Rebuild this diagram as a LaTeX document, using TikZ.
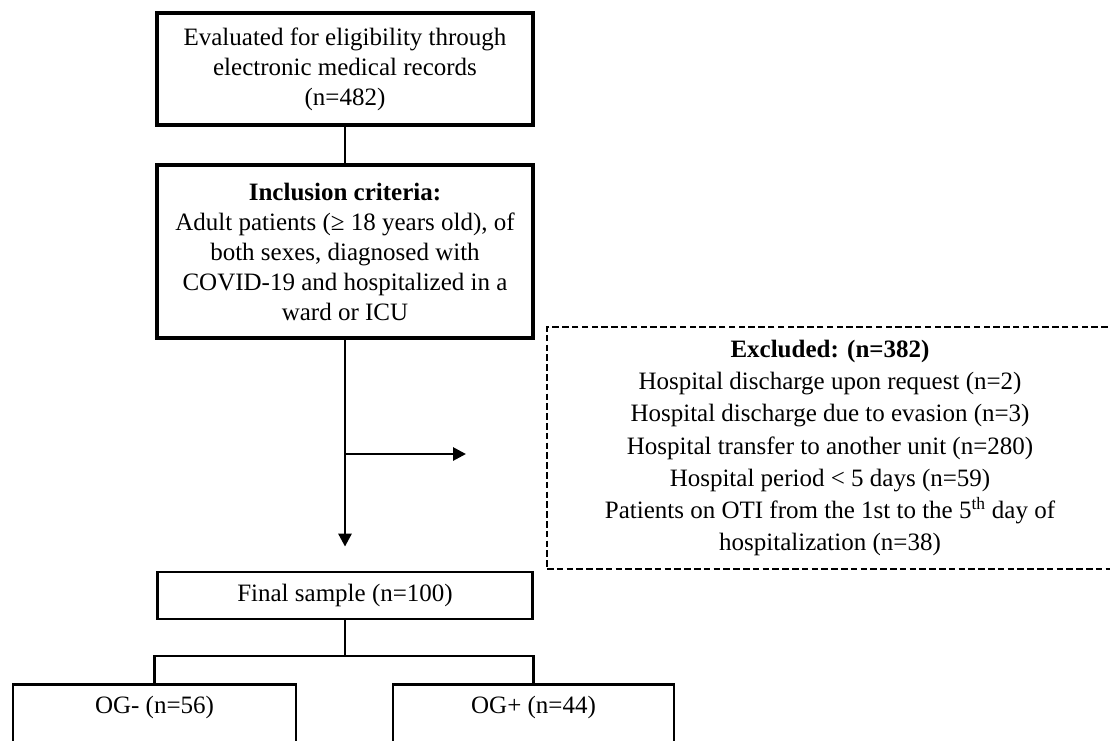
\documentclass[tikz,border=0pt]{standalone}
\usepackage{fontspec}
\setmainfont{Liberation Serif}
\usetikzlibrary{arrows.meta,calc}
\begin{document}
\begin{tikzpicture}[x=1pt,y=-1pt,
  txt/.style={font=\fontsize{25}{30}\selectfont,text=black,align=center,inner sep=0pt},
  box/.style={txt,draw=black,line width=3.2pt,rectangle,line join=miter},
  dbox/.style={draw=black,line width=2.6pt,rectangle,dash pattern=on 6.5pt off 3.3pt,align=center,inner sep=0pt,
    font=\fontsize{25}{32.3}\selectfont,text=black},
  conn/.style={draw=black,line width=2.8pt,line join=miter},
  thin/.style={draw=black,line width=2.3pt,line join=miter},
  arr/.style={conn,-{Triangle[length=13pt,width=13pt]}},
]
\useasboundingbox (0,0) rectangle (1110,740);
\fill[white] (0,0) rectangle (1110,740);

\node[box,minimum width=376pt,minimum height=112pt] (eval) at (345,69)
  {Evaluated for eligibility through\\electronic medical records\\(n=482)};

\node[box,minimum width=376pt,minimum height=173pt] (incl) at (345,251.5)
  {\textbf{Inclusion criteria:}\\Adult patients (≥ 18 years old), of\\both sexes, diagnosed with\\COVID-19 and hospitalized in a\\ward or ICU};

\node[dbox,minimum width=566pt,minimum height=242pt] (excl) at (830,448)
  {\textbf{Excluded: (n=382)}\\
   Hospital discharge upon request (n=2)\\
   Hospital discharge due to evasion (n=3)\\
   Hospital transfer to another unit (n=280)\\
   Hospital period {<} 5 days (n=59)\\
   Patients on OTI from the 1st to the 5\textsuperscript{th} day of\\
   hospitalization (n=38)};

\node[box,line width=2.8pt,minimum width=375pt,minimum height=47pt] (final) at (345,595.5)
  {Final sample (n=100)};

\node[box,line width=2.8pt,anchor=north,minimum width=283pt,minimum height=110pt] (ogm) at (154.5,683) {};
\node[txt] (ogmt) at (154.5,707) {OG- (n=56)};
\node[box,line width=2.8pt,anchor=north,minimum width=281pt,minimum height=110pt] (ogp) at (533.5,683) {};
\node[txt] (ogpt) at (533.5,707) {OG+ (n=44)};

\coordinate (exarrow) at (466,454);
\coordinate (split) at (345,656);

\draw[conn] (eval.south) -- (incl.north);
\draw[arr,shorten >=24pt] (incl.south) -- (incl.south |- final.north);
\draw[arr] (incl.south |- exarrow) -- (exarrow);
\draw[thin] (final.south) -- (split);
\draw[thin] (ogm.north) |- (split) -| (ogp.north);
\end{tikzpicture}
\end{document}
